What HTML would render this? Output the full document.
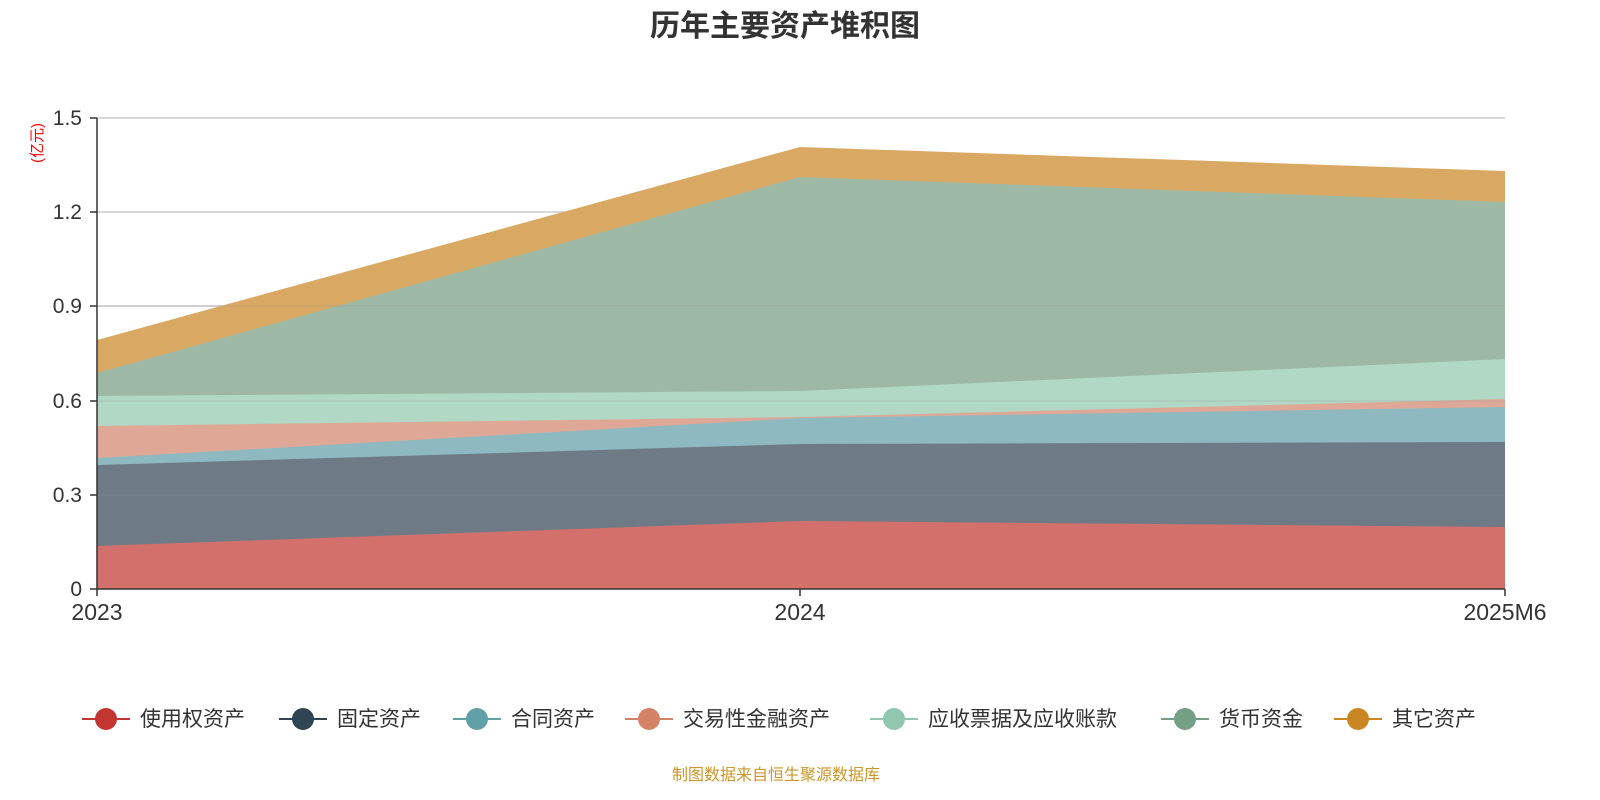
<!DOCTYPE html>
<html><head><meta charset="utf-8"><style>
html,body{margin:0;padding:0;background:#fff;overflow:hidden;width:1600px;height:800px;}
svg{display:block;}
svg text{font-family:"Liberation Sans","Noto Sans CJK SC",sans-serif;}
</style></head><body>
<svg width="1600" height="800" xmlns="http://www.w3.org/2000/svg">
<text x="785" y="36" text-anchor="middle" font-size="30" font-weight="bold" fill="#333">历年主要资产堆积图</text>
<g stroke="#ccc" stroke-width="1.5">
<line x1="97" y1="118" x2="1505" y2="118"/>
<line x1="97" y1="212" x2="1505" y2="212"/>
<line x1="97" y1="306" x2="1505" y2="306"/>
<line x1="97" y1="401" x2="1505" y2="401"/>
<line x1="97" y1="495" x2="1505" y2="495"/>
</g>
<polygon points="97,340 800,147 1505,171 1505,589 97,589" fill="#d9a964"/>
<polygon points="97,373 800,177 1505,202 1505,589 97,589" fill="#9db9a6"/>
<polygon points="97,396 800,391 1505,359 1505,589 97,589" fill="#b1d7c5"/>
<polygon points="97,426 800,417 1505,399 1505,589 97,589" fill="#dfa896"/>
<polygon points="97,458 800,418 1505,407 1505,589 97,589" fill="#8fb9c0"/>
<polygon points="97,465 800,444 1505,442 1505,589 97,589" fill="#6e7b87"/>
<polygon points="97,546 800,521 1505,527 1505,589 97,589" fill="#d4706c"/>
<g stroke="#999" stroke-opacity="0.35" stroke-width="1">
<line x1="97" y1="306" x2="1505" y2="306"/>
<line x1="97" y1="401" x2="1505" y2="401"/>
<line x1="97" y1="495" x2="1505" y2="495"/>
</g>
<line x1="97" y1="118" x2="97" y2="589" stroke="#333" stroke-width="1.5"/>
<line x1="97" y1="589" x2="1505" y2="589" stroke="#333" stroke-width="1.5"/>
<g stroke="#333" stroke-width="1.5">
<line x1="90" y1="118" x2="97" y2="118"/><line x1="90" y1="212" x2="97" y2="212"/><line x1="90" y1="306" x2="97" y2="306"/><line x1="90" y1="401" x2="97" y2="401"/><line x1="90" y1="495" x2="97" y2="495"/><line x1="90" y1="589" x2="97" y2="589"/>
<line x1="97" y1="589" x2="97" y2="596"/><line x1="800" y1="589" x2="800" y2="596"/><line x1="1505" y1="589" x2="1505" y2="596"/>
</g>
<g font-size="21" fill="#333" text-anchor="end">
<text x="82" y="125">1.5</text><text x="82" y="219">1.2</text><text x="82" y="313">0.9</text><text x="82" y="408">0.6</text><text x="82" y="502">0.3</text><text x="82" y="596">0</text>
</g>
<g font-size="23" fill="#333" text-anchor="middle">
<text x="97" y="620">2023</text><text x="800" y="620">2024</text><text x="1505" y="620">2025M6</text>
</g>
<text transform="translate(42,143) rotate(-90)" font-size="15" fill="red" text-anchor="middle">(亿元)</text>
<g font-size="21" fill="#333">
<line x1="82" y1="719" x2="130" y2="719" stroke="#c23531" stroke-width="2"/><circle cx="106" cy="719" r="11" fill="#c23531"/><text x="140" y="726">使用权资产</text>
<line x1="279" y1="719" x2="327" y2="719" stroke="#2f4554" stroke-width="2"/><circle cx="303" cy="719" r="11" fill="#2f4554"/><text x="337" y="726">固定资产</text>
<line x1="453" y1="719" x2="501" y2="719" stroke="#61a0a8" stroke-width="2"/><circle cx="477" cy="719" r="11" fill="#61a0a8"/><text x="511" y="726">合同资产</text>
<line x1="625" y1="719" x2="673" y2="719" stroke="#d48265" stroke-width="2"/><circle cx="649" cy="719" r="11" fill="#d48265"/><text x="683" y="726">交易性金融资产</text>
<line x1="870" y1="719" x2="918" y2="719" stroke="#91c7ae" stroke-width="2"/><circle cx="894" cy="719" r="11" fill="#91c7ae"/><text x="928" y="726">应收票据及应收账款</text>
<line x1="1161" y1="719" x2="1209" y2="719" stroke="#749f83" stroke-width="2"/><circle cx="1185" cy="719" r="11" fill="#749f83"/><text x="1219" y="726">货币资金</text>
<line x1="1334" y1="719" x2="1382" y2="719" stroke="#ca8622" stroke-width="2"/><circle cx="1358" cy="719" r="11" fill="#ca8622"/><text x="1392" y="726">其它资产</text>
</g>
<text x="776" y="780" font-size="16" fill="#c9962b" text-anchor="middle">制图数据来自恒生聚源数据库</text>
</svg>
</body></html>
